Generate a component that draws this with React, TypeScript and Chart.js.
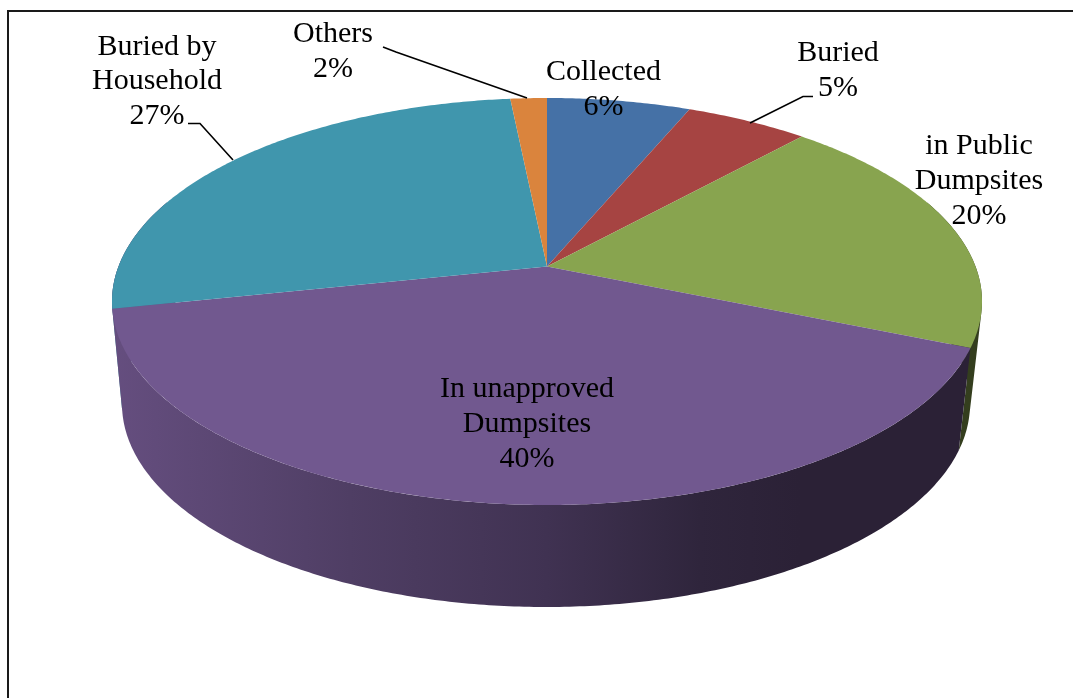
import React, { useEffect, useRef } from "react";
import { Chart, registerables, ArcElement, PieController } from "chart.js";

const categories = ["Collected", "Buried", "in Public\nDumpsites", "In unapproved\nDumpsites", "Buried by\nHousehold", "Others"];
const shares = [6.3, 5.4, 19.6, 40.4, 26.7, 1.6];
const sliceColors = ["#4571a6", "#a64442", "#88a44f", "#71588f", "#4096ad", "#da843d"];

// Presentation only: where each data label and its leader line sits
const labelCentres = [
  { x: 603.5, y: 80 },
  { x: 838, y: 61 },
  { x: 979, y: 154 },
  { x: 527, y: 397 },
  { x: 157, y: 54.5 },
  { x: 333, y: 42 },
];
const leaders: number[][][] = [
  [],
  [[813, 96.5], [803, 96.5], [750, 123]],
  [],
  [],
  [[188, 123.5], [200, 123.5], [233, 160]],
  [[383, 47], [396, 52], [527, 98]],
];
const LINE_GAP = 34.8;
const FONT = '30px "Liberation Serif", "Times New Roman", serif';

const TOP = { cx: 547, cy: 301.5, rx: 435, ry: 203.5 };
const BOTTOM = { cx: 546, cy: 404, rx: 424, ry: 203 };
const TILT = -0.172;
const SCALE = Math.sqrt(1 - TILT * TILT);
const SHADE_STOPS = [[112, 0.89], [350, 0.7], [547, 0.57], [700, 0.42], [800, 0.38], [990, 0.38]];
const BACK_OVERLAP = 0.35;

type Ellipse = typeof TOP;

// Perspective view of the flat disc: chart angle -> screen point
function project(angle: number, e: Ellipse, r = 1): [number, number] {
  const u = Math.cos(angle) * r;
  const v = Math.sin(angle) * r;
  const d = 1 + TILT * v;
  return [e.cx + (e.rx * u * SCALE) / d, e.cy + (e.ry * (v + TILT)) / d];
}

function shaded(hex: string, f: number) {
  const n = parseInt(hex.slice(1), 16);
  return `rgb(${Math.round(((n >> 16) & 255) * f)},${Math.round(((n >> 8) & 255) * f)},${Math.round((n & 255) * f)})`;
}

class Arc3D extends ArcElement {
  static id = "arc3d";
  draw(ctx: CanvasRenderingContext2D) {
    const { startAngle, endAngle } = (this as any).getProps(["startAngle", "endAngle"], true);
    const color = (this as any).options.backgroundColor;
    ctx.save();
    ctx.beginPath();
    const apex = project(0, TOP, 0);
    ctx.moveTo(apex[0], apex[1]);
    const n = Math.max(2, Math.ceil((endAngle - startAngle) / 0.01));
    for (let i = 0; i <= n; i++) {
      const p = project(startAngle + ((endAngle - startAngle) * i) / n, TOP);
      ctx.lineTo(p[0], p[1]);
    }
    ctx.closePath();
    ctx.fillStyle = color;
    ctx.fill();
    ctx.restore();
  }
}

class Pie3D extends PieController {
  static id = "pie3d";
  static defaults = { dataElementType: "arc3d" };
}

const wallPlugin = {
  id: "wall",
  beforeDatasetsDraw(chart: any) {
    const ctx = chart.ctx as CanvasRenderingContext2D;
    const arcs = chart.getDatasetMeta(0).data;
    const x0 = SHADE_STOPS[0][0];
    const x1 = SHADE_STOPS[SHADE_STOPS.length - 1][0];
    // The front-most slice is drawn last so its wall wraps the left edge
    const front = arcs.findIndex((a: any) => a.startAngle <= Math.PI / 2 && a.endAngle >= Math.PI / 2);
    const order = arcs.map((_: any, i: number) => i).filter((i: number) => i !== front);
    order.push(front);
    order.forEach((idx: number) => {
      const arc = arcs[idx];
      const limit = Math.PI + BACK_OVERLAP;
      const a0 = Math.max(arc.startAngle, -BACK_OVERLAP);
      const a1 = idx === front ? limit : Math.min(arc.endAngle, limit);
      if (a1 <= a0) return;
      const steps = Math.ceil((a1 - a0) / 0.01);
      const grad = ctx.createLinearGradient(x0, 0, x1, 0);
      SHADE_STOPS.forEach(([x, s]) => grad.addColorStop((x - x0) / (x1 - x0), shaded(sliceColors[idx], s)));
      ctx.beginPath();
      for (let i = 0; i < steps; i++) {
        const s = a0 + ((a1 - a0) * i) / steps;
        const e = a0 + ((a1 - a0) * (i + 1)) / steps;
        const p0 = project(s, TOP);
        const p1 = project(e, TOP);
        const q0 = project(s, BOTTOM);
        const q1 = project(e, BOTTOM);
        // every quad is wound the same way so the union fills without seams
        const cross = (p1[0] - p0[0]) * (q0[1] - p0[1]) - (p1[1] - p0[1]) * (q0[0] - p0[0]);
        const quad = cross > 0 ? [p0, p1, q1, q0] : [p0, q0, q1, p1];
        ctx.moveTo(quad[0][0], quad[0][1]);
        ctx.lineTo(quad[1][0], quad[1][1]);
        ctx.lineTo(quad[2][0], quad[2][1]);
        ctx.lineTo(quad[3][0], quad[3][1]);
        ctx.closePath();
      }
      ctx.fillStyle = grad;
      ctx.fill("nonzero");
    });
  },
};

const annotationPlugin = {
  id: "annotations",
  beforeDraw(chart: any) {
    const ctx = chart.ctx as CanvasRenderingContext2D;
    ctx.save();
    ctx.fillStyle = "#ffffff";
    ctx.fillRect(0, 0, chart.width, chart.height);
    ctx.strokeStyle = "#1a1a1a";
    ctx.lineWidth = 2;
    ctx.beginPath();
    ctx.moveTo(8, chart.height + 2);
    ctx.lineTo(8, 11);
    ctx.lineTo(chart.width + 2, 11);
    ctx.stroke();
    ctx.restore();
  },
  afterDatasetsDraw(chart: any) {
    const ctx = chart.ctx as CanvasRenderingContext2D;
    const total = shares.reduce((a, b) => a + b, 0);
    ctx.save();
    ctx.strokeStyle = "#000000";
    ctx.lineWidth = 1.6;
    leaders.forEach((pts) => {
      if (!pts.length) return;
      ctx.beginPath();
      pts.forEach((p, i) => (i ? ctx.lineTo(p[0], p[1]) : ctx.moveTo(p[0], p[1])));
      ctx.stroke();
    });
    ctx.fillStyle = "#000000";
    ctx.font = FONT;
    ctx.textAlign = "center";
    ctx.textBaseline = "alphabetic";
    categories.forEach((name, i) => {
      const lines = [...name.split("\n"), `${Math.round((shares[i] / total) * 100)}%`];
      lines.forEach((line, k) => ctx.fillText(line, labelCentres[i].x, labelCentres[i].y + k * LINE_GAP));
    });
    ctx.restore();
  },
};

Chart.register(...registerables, Arc3D as any, Pie3D as any);

export default function App() {
  const ref = useRef<HTMLCanvasElement>(null);
  useEffect(() => {
    document.body.style.margin = "0";
    const chart = new Chart(ref.current as HTMLCanvasElement, {
      type: "pie3d" as any,
      data: {
        labels: categories.map((c) => c.replace("\n", " ")),
        datasets: [{ data: shares, backgroundColor: sliceColors, borderWidth: 0 }],
      },
      options: {
        responsive: false,
        animation: false,
        events: [],
        plugins: { legend: { display: false }, tooltip: { enabled: false }, title: { display: false } },
      },
      plugins: [wallPlugin, annotationPlugin],
    } as any);
    return () => chart.destroy();
  }, []);
  return (
    <div style={{ width: 1073, height: 698, overflow: "hidden" }}>
      <canvas ref={ref} width={1073} height={698} style={{ display: "block" }} />
    </div>
  );
}
